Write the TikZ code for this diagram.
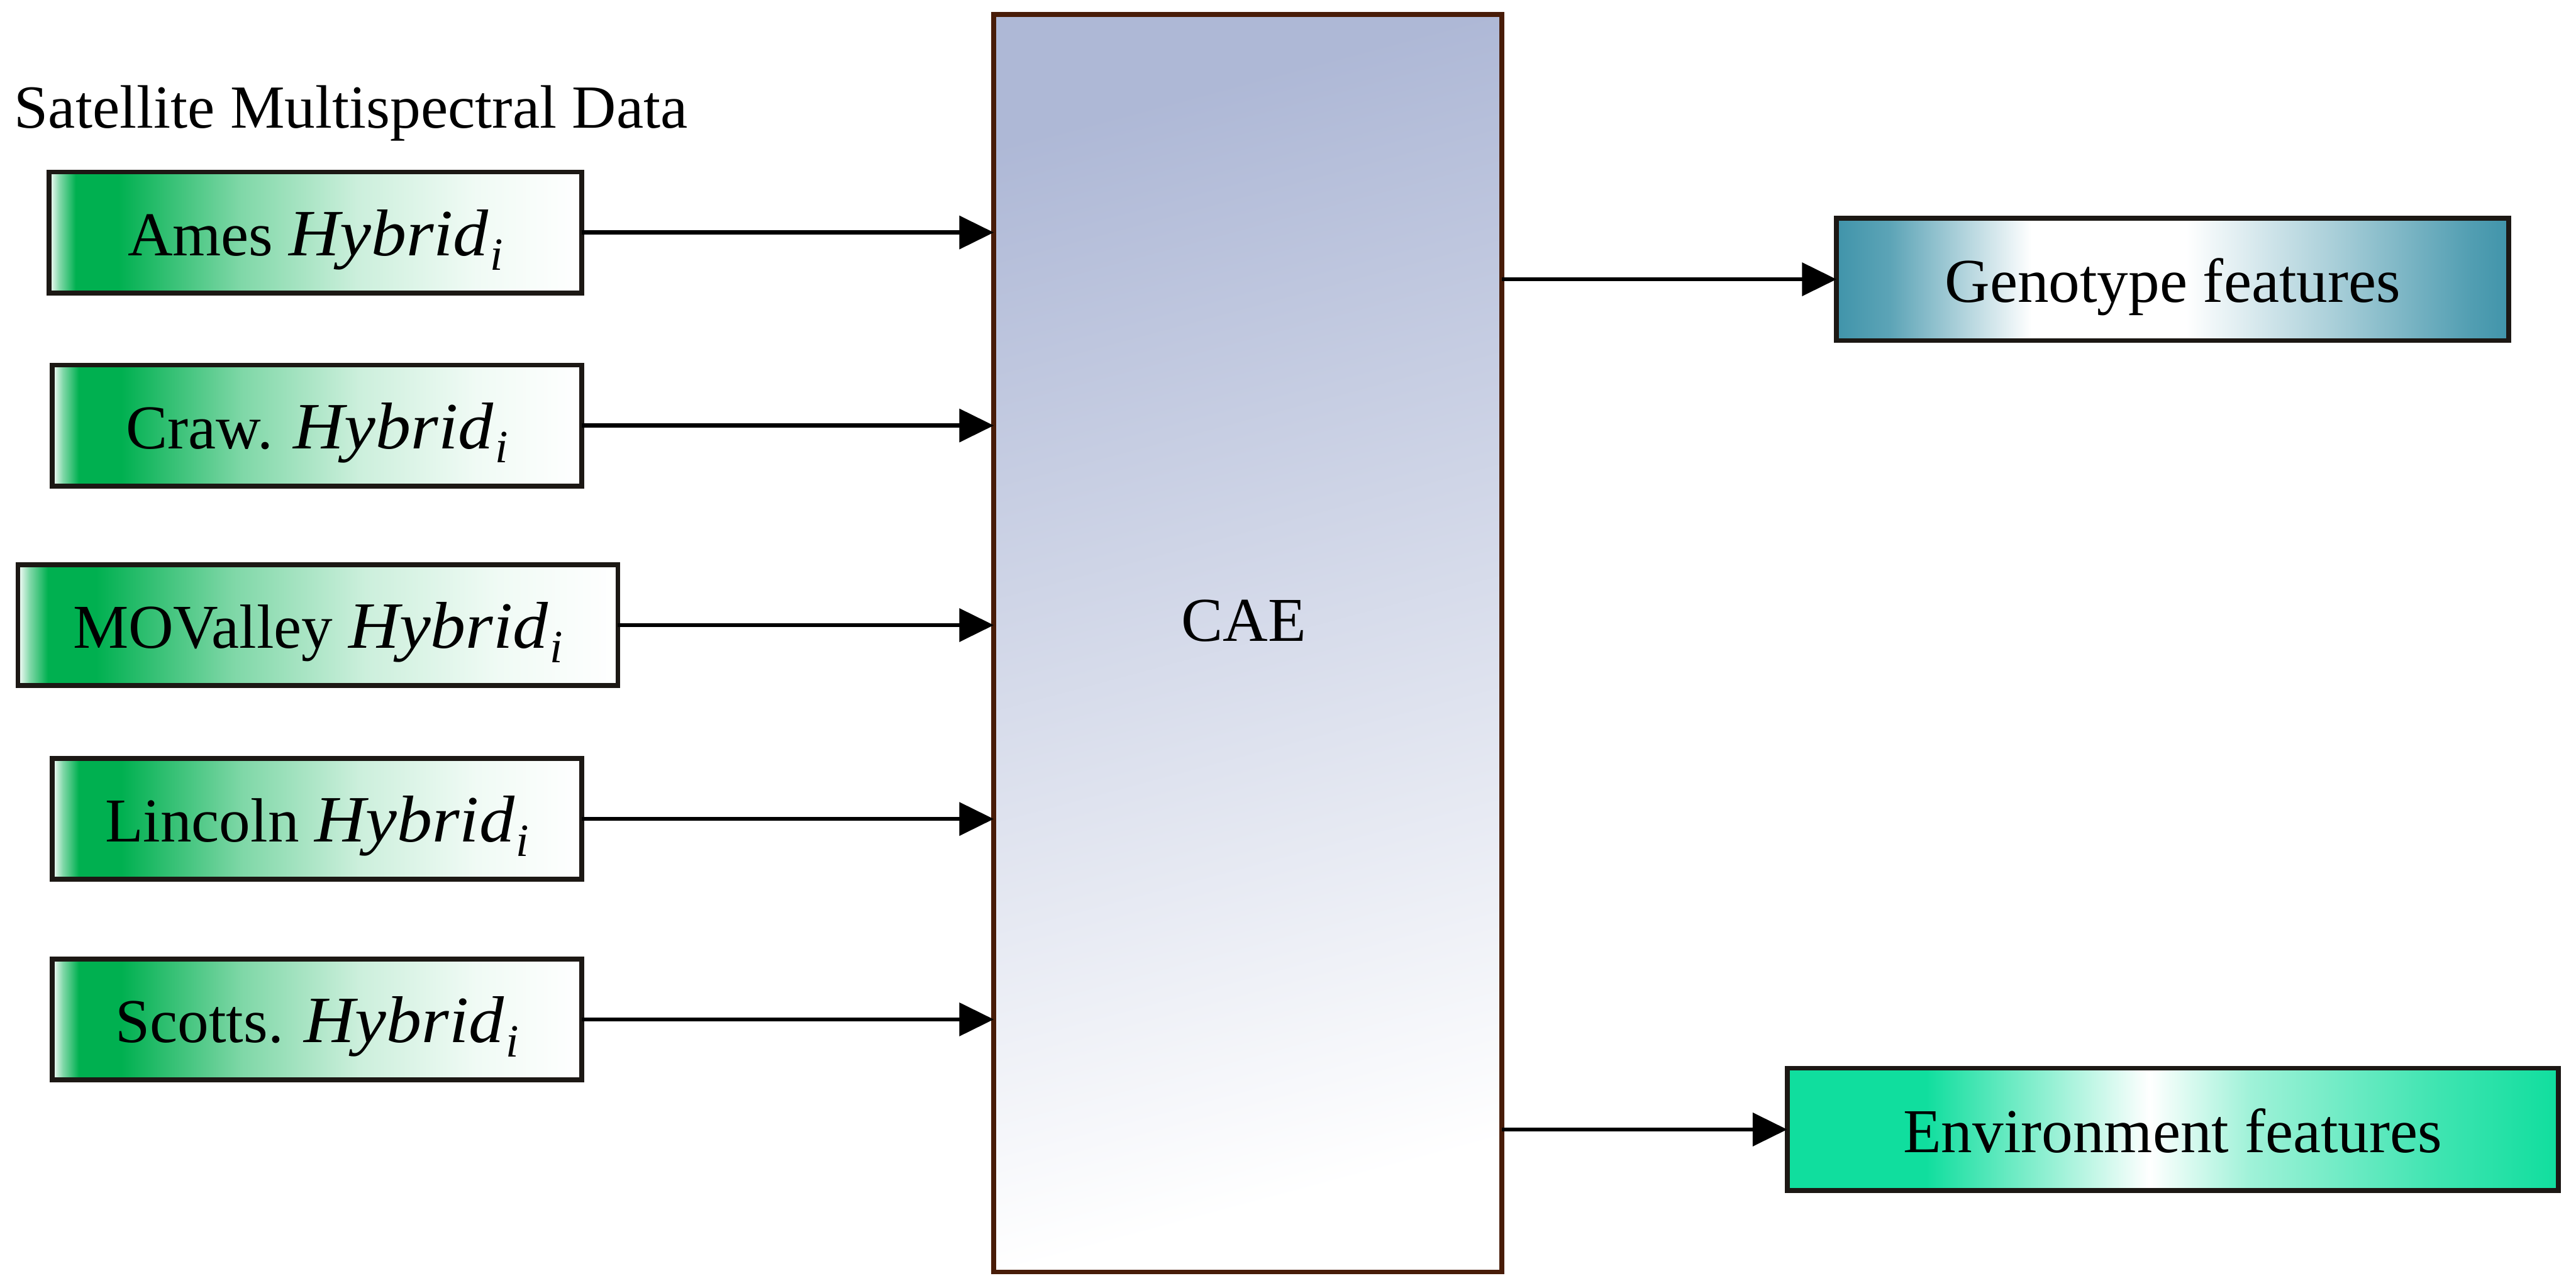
\documentclass[tikz,border=0pt]{standalone}
\usepackage{fontspec}
\usepackage{graphicx}
\setmainfont{Liberation Serif}
\usetikzlibrary{arrows.meta,shadings}
\definecolor{greenA}{RGB}{0,176,80}
\definecolor{tealA}{RGB}{64,148,170}
\definecolor{envA}{RGB}{16,222,158}
\definecolor{caeTop}{RGB}{174,184,214}
\definecolor{caeLine}{RGB}{72,28,8}
\definecolor{boxLine}{RGB}{28,24,20}
\pgfdeclarehorizontalshading{hybshade}{100bp}{color(0bp)=(white); color(25bp)=(white); color(26bp)=(greenA!50); color(27.5bp)=(greenA); color(31.5bp)=(greenA); color(43bp)=(greenA!50); color(54bp)=(greenA!20); color(65bp)=(greenA!6); color(75bp)=(white); color(100bp)=(white)}
\pgfdeclarehorizontalshading{genoshade}{100bp}{color(0bp)=(tealA); color(25bp)=(tealA); color(29bp)=(tealA!85); color(39.5bp)=(white); color(51bp)=(white); color(62bp)=(tealA!45); color(72bp)=(tealA!90); color(75bp)=(tealA); color(100bp)=(tealA)}
\pgfdeclarehorizontalshading{envshade}{100bp}{color(0bp)=(envA); color(25bp)=(envA); color(34bp)=(envA); color(42bp)=(envA!45); color(48.5bp)=(white); color(55bp)=(envA!40); color(67bp)=(envA!80); color(75bp)=(envA); color(100bp)=(envA)}
\newcommand{\hyb}{\scalebox{1.13}[1.06]{\itshape Hybrid}\kern0.3pt\raisebox{-0.5ex}{\fontsize{8}{8}\selectfont\itshape i}}
\begin{document}
\begin{tikzpicture}[x=0.01cm,y=-0.01cm,
  every node/.style={font=\fontsize{10.8}{12.9}\selectfont},
  txt/.style={text height=0.32cm, text depth=0.04cm},
  hybbox/.style={txt, draw=boxLine, line width=0.85pt, shading=hybshade, minimum height=0.735cm, inner sep=0pt, outer sep=0pt},
  outbox/.style={txt, draw=boxLine, line width=0.85pt, minimum height=0.745cm, inner sep=0pt, outer sep=0pt},
  arr/.style={-{Triangle[length=2.1mm,width=2.0mm]}, line width=0.7pt, black}]
\useasboundingbox (0,0) rectangle (1568,784);
\node[anchor=base west, inner sep=0pt, font=\fontsize{10.6}{12.7}\selectfont] (title) at (8,78) {Satellite Multispectral Data};
\node[hybbox, minimum width=3.24cm] (ames) at (192,141.5) {Ames \hyb};
\node[hybbox, minimum width=3.22cm] (craw) at (193,259) {Craw. \hyb};
\node[hybbox, minimum width=3.65cm] (mov) at (193.5,380.5) {MOValley \hyb};
\node[hybbox, minimum width=3.22cm] (linc) at (193,498.5) {Lincoln \hyb};
\node[hybbox, minimum width=3.22cm] (scot) at (193,620.5) {Scotts. \hyb};
\node[draw=caeLine, line width=0.85pt, top color=caeTop, middle color=caeTop!75!white, bottom color=white, shading angle=15, minimum width=3.09cm, minimum height=7.65cm, inner sep=0pt, outer sep=0pt] (cae) at (759.5,391.5) {};
\node (caelabel) at (757,378) {CAE};
\node[outbox, shading=genoshade, minimum width=4.09cm] (geno) at (1322.5,170) {Genotype features};
\node[outbox, shading=envshade, minimum width=4.69cm] (env) at (1322.5,687.5) {Environment features};
\draw[arr] (ames.east) -- (ames.east -| cae.west);
\draw[arr] (craw.east) -- (craw.east -| cae.west);
\draw[arr] (mov.east) -- (mov.east -| cae.west);
\draw[arr] (linc.east) -- (linc.east -| cae.west);
\draw[arr] (scot.east) -- (scot.east -| cae.west);
\draw[arr] (geno.west -| cae.east) -- (geno.west);
\draw[arr] (env.west -| cae.east) -- (env.west);
\end{tikzpicture}
\end{document}
